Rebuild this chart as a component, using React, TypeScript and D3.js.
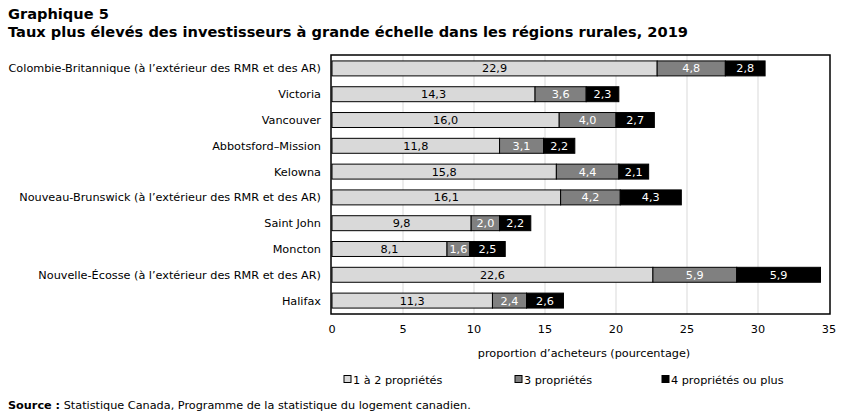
import React, { useEffect, useRef } from 'react';
import * as d3 from 'd3';

const regions = [
  'Colombie-Britannique (à l’extérieur des RMR et des AR)',
  'Victoria',
  'Vancouver',
  'Abbotsford–Mission',
  'Kelowna',
  'Nouveau-Brunswick (à l’extérieur des RMR et des AR)',
  'Saint John',
  'Moncton',
  'Nouvelle-Écosse (à l’extérieur des RMR et des AR)',
  'Halifax',
];
const oneToTwo = [22.9, 14.3, 16.0, 11.8, 15.8, 16.1, 9.8, 8.1, 22.6, 11.3];
const three = [4.8, 3.6, 4.0, 3.1, 4.4, 4.2, 2.0, 1.6, 5.9, 2.4];
const fourPlus = [2.8, 2.3, 2.7, 2.2, 2.1, 4.3, 2.2, 2.5, 5.9, 2.6];
const seriesNames = ['1 à 2 propriétés', '3 propriétés', '4 propriétés ou plus'];
const xTicks = [0, 5, 10, 15, 20, 25, 30, 35];

const fills = ['#d9d9d9', '#808080', '#000000'];
const textFills = ['#000000', '#ffffff', '#ffffff'];
const font = 'Verdana, "DejaVu Sans", sans-serif';
const fs = 11.25;

export default function App() {
  const ref = useRef<SVGSVGElement>(null);

  useEffect(() => {
    const svg = d3.select(ref.current);
    svg.selectAll('*').remove();

    const left = 332, right = 829, top = 55, bottom = 314;

    const x = d3.scaleLinear().domain([0, 35]).range([left, right]);
    const y = d3.scaleBand<string>().domain(regions).range([top, bottom]).paddingInner(0.42).paddingOuter(0.23);

    // titles
    svg.append('text').attr('x', 8).attr('y', 19).attr('font-weight', 'bold').attr('font-size', 14.6)
      .attr('fill', '#000').text('Graphique 5');
    svg.append('text').attr('x', 8).attr('y', 37).attr('font-weight', 'bold').attr('font-size', 14.6)
      .attr('fill', '#000').text('Taux plus élevés des investisseurs à grande échelle dans les régions rurales, 2019');

    // grid
    svg.append('g').selectAll('line').data(xTicks.slice(1, -1)).join('line')
      .attr('x1', d => x(d)).attr('x2', d => x(d)).attr('y1', top).attr('y2', bottom)
      .attr('stroke', '#d9d9d9').attr('stroke-width', 1);

    // stacked bars
    const rows = regions.map((r, i) => ({ region: r, values: [oneToTwo[i], three[i], fourPlus[i]] }));
    const g = svg.append('g');
    rows.forEach(row => {
      let acc = 0;
      row.values.forEach((v, k) => {
        const x0 = x(acc), x1 = x(acc + v);
        acc += v;
        g.append('rect')
          .attr('x', x0).attr('y', y(row.region)!)
          .attr('width', x1 - x0).attr('height', y.bandwidth())
          .attr('fill', fills[k]).attr('stroke', '#000').attr('stroke-width', 1);
        g.append('text')
          .attr('x', (x0 + x1) / 2).attr('y', y(row.region)! + y.bandwidth() / 2)
          .attr('dy', '0.36em').attr('text-anchor', 'middle').attr('font-size', fs)
          .attr('fill', textFills[k]).text(d3.format('.1f')(v).replace('.', ','));
      });
    });

    // frame
    svg.append('rect').attr('x', left - 1).attr('y', top).attr('width', right - left + 2).attr('height', bottom - top)
      .attr('fill', 'none').attr('stroke', '#000').attr('stroke-width', 1.5);

    // category labels
    svg.append('g').selectAll('text').data(regions).join('text')
      .attr('x', 321).attr('y', d => y(d)! + y.bandwidth() / 2).attr('dy', '0.36em')
      .attr('text-anchor', 'end').attr('font-size', fs).attr('fill', '#000').text(d => d);

    // x tick labels
    svg.append('g').selectAll('text').data(xTicks).join('text')
      .attr('x', d => x(d)).attr('y', 333).attr('text-anchor', 'middle').attr('font-size', fs)
      .attr('fill', '#000').text(d => String(d));

    svg.append('text').attr('x', 584).attr('y', 357).attr('text-anchor', 'middle').attr('font-size', fs)
      .attr('fill', '#000').text('proportion d’acheteurs (pourcentage)');

    // legend
    const legendX = [344, 515, 662];
    seriesNames.forEach((name, k) => {
      svg.append('rect').attr('x', legendX[k]).attr('y', 375.5).attr('width', 7).attr('height', 7)
        .attr('fill', fills[k]).attr('stroke', '#000').attr('stroke-width', 1);
      svg.append('text').attr('x', legendX[k] + 9).attr('y', 384).attr('font-size', fs)
        .attr('fill', '#000').text(name);
    });

    // source
    const src = svg.append('text').attr('x', 8).attr('y', 409).attr('font-size', fs).attr('fill', '#000');
    src.append('tspan').attr('font-weight', 'bold').text('Source :');
    src.append('tspan').text(' Statistique Canada, Programme de la statistique du logement canadien.');
  }, []);

  return (
    <svg ref={ref} width={851} height={416}
      style={{ position: 'absolute', left: 0, top: 0, fontFamily: font, background: '#fff' }} />
  );
}
